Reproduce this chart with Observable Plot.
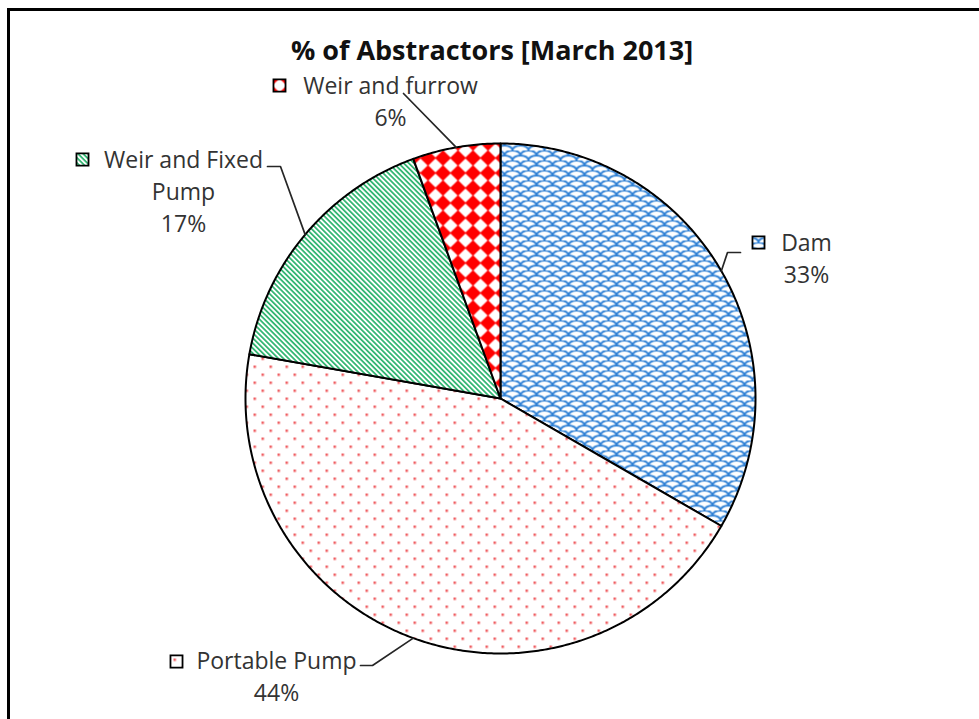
<!DOCTYPE html>
<html>
<head>
<meta charset="utf-8">
<script src="https://cdn.jsdelivr.net/npm/d3@7"></script>
<script src="https://cdn.jsdelivr.net/npm/@observablehq/plot@0.6"></script>
<style>
  html, body { margin: 0; padding: 0; background: #fff; }
  #wrap { position: relative; width: 979px; height: 719px; overflow: hidden; background: #fff; }
  #chart { position: absolute; left: 0; top: 0; }
  #frame { position: absolute; left: 7px; top: 8px; width: 1200px; height: 1000px;
           border-left: 3px solid #000; border-top: 3px solid #000; pointer-events: none; }
</style>
</head>
<body>
<div id="wrap"><div id="chart"></div><div id="frame"></div></div>
<script>
// ---- data ----
const title = "% of Abstractors [March 2013]";
const categories = ["Dam", "Portable Pump", "Weir and Fixed Pump", "Weir and furrow"];
const values = [6, 8, 3, 1];
const labelLines = [["Dam"], ["Portable Pump"], ["Weir and Fixed", "Pump"], ["Weir and furrow"]];
const patternIds = ["pat-dam", "pat-portable", "pat-fixed", "pat-furrow"];

// ---- layout (pixel offsets from the pie centre, y downward) ----
const R = 255;
const cx = 500, cy = 398;
const lineH = 32;
const labelLayout = [
  {tx: 306, ty: -155, kx: 258, ky: -156, elbow: [227, -146], end: [240, -146]},
  {tx: -224, ty: 263, kx: -324, ky: 263, elbow: [-128, 267], end: [-140, 267]},
  {tx: -317, ty: -238, kx: -418, ky: -239, elbow: [-220, -232], end: [-233, -232]},
  {tx: -110, ty: -312, kx: -221, ky: -313, elbow: null, end: [-97, -305]}
];
const font = "Open Sans";
const labelSize = 23;

const total = d3.sum(values);
const fmt = d3.format(".0%");
const arcs = d3.pie().sort(null).value(d => d)(values);

const slicePts = [];
arcs.forEach((a, i) => {
  const fill = `url(#${patternIds[i]})`;
  const n = Math.max(2, Math.ceil((a.endAngle - a.startAngle) / (Math.PI / 360)));
  slicePts.push({name: categories[i], fill, x: 0, y: 0});
  for (let k = 0; k <= n; k++) {
    const t = a.startAngle + (a.endAngle - a.startAngle) * k / n;
    slicePts.push({name: categories[i], fill, x: R * Math.sin(t), y: -R * Math.cos(t)});
  }
  slicePts.push({name: categories[i], fill, x: 0, y: 0});
});

const leaderPts = [];
const keys = [];
const textRows = [];
arcs.forEach((a, i) => {
  const L = labelLayout[i];
  const mid = (a.startAngle + a.endAngle) / 2;
  leaderPts.push({name: categories[i], x: R * Math.sin(mid), y: -R * Math.cos(mid)});
  if (L.elbow) leaderPts.push({name: categories[i], x: L.elbow[0], y: L.elbow[1]});
  leaderPts.push({name: categories[i], x: L.end[0], y: L.end[1]});
  keys.push({name: categories[i], fill: `url(#${patternIds[i]})`, x: L.kx, y: L.ky});
  const lines = [...labelLines[i], fmt(values[i] / total)];
  lines.forEach((s, j) => textRows.push({text: s, x: L.tx, y: L.ty + j * lineH}));
});

const svg = Plot.plot({
  width: 979,
  height: 719,
  margin: 0,
  style: {fontFamily: font, background: "transparent"},
  x: {domain: [-R, R], range: [cx - R, cx + R], axis: null},
  y: {domain: [-R, R], range: [cy - R, cy + R], axis: null},
  color: {type: "identity"},
  marks: [
    Plot.line(slicePts, {x: "x", y: "y", z: "name", fill: "fill", stroke: "#000", strokeWidth: 2, strokeLinejoin: "round", curve: "linear"}),
    Plot.line(leaderPts, {x: "x", y: "y", z: "name", stroke: "#262626", strokeWidth: 1.7, curve: "linear"}),
    Plot.dot(keys, {x: "x", y: "y", symbol: "square", r: 6.8, fill: "fill", stroke: "#000", strokeWidth: 1.8}),
    Plot.text(textRows, {x: "x", y: "y", text: "text", fontSize: labelSize, fill: "#333", textAnchor: "middle", lineAnchor: "middle", fontFamily: font}),
    Plot.text([title], {frameAnchor: "top", dx: 2, dy: 51, lineAnchor: "middle", fontSize: 27, fontWeight: "bold", fill: "#111", fontFamily: font})
  ]
});

const defs = `
<pattern id="pat-dam" patternUnits="userSpaceOnUse" width="16" height="10">
  <rect width="16" height="10" fill="#fff"/>
  <path d="M0,10 A8,5 0 0 1 16,10 M-8,5 A8,5 0 0 1 8,5 M8,5 A8,5 0 0 1 24,5 M0,0 A8,5 0 0 1 16,0" fill="none" stroke="#2f80d4" stroke-width="2"/>
</pattern>
<pattern id="pat-portable" patternUnits="userSpaceOnUse" width="16" height="16" x="2" y="2">
  <rect width="16" height="16" fill="#fff"/>
  <rect x="3" y="3" width="2.5" height="2.5" fill="#ee4b50" opacity="0.9"/>
  <rect x="11" y="11" width="2.5" height="2.5" fill="#ee4b50" opacity="0.9"/>
</pattern>
<pattern id="pat-fixed" patternUnits="userSpaceOnUse" width="3.6" height="10" patternTransform="rotate(-45)">
  <rect width="3.6" height="10" fill="#fff"/>
  <rect width="1.8" height="10" fill="#36b775"/>
</pattern>
<pattern id="pat-furrow" patternUnits="userSpaceOnUse" width="15" height="15">
  <rect width="15" height="15" fill="#fff"/>
  <path d="M7.5,-0.4 L15.4,7.5 L7.5,15.4 L-0.4,7.5 Z" fill="#ff0000"/>
</pattern>`;
d3.select(svg).insert("defs", ":first-child").html(defs);

document.getElementById("chart").appendChild(svg);
</script>
</body>
</html>
